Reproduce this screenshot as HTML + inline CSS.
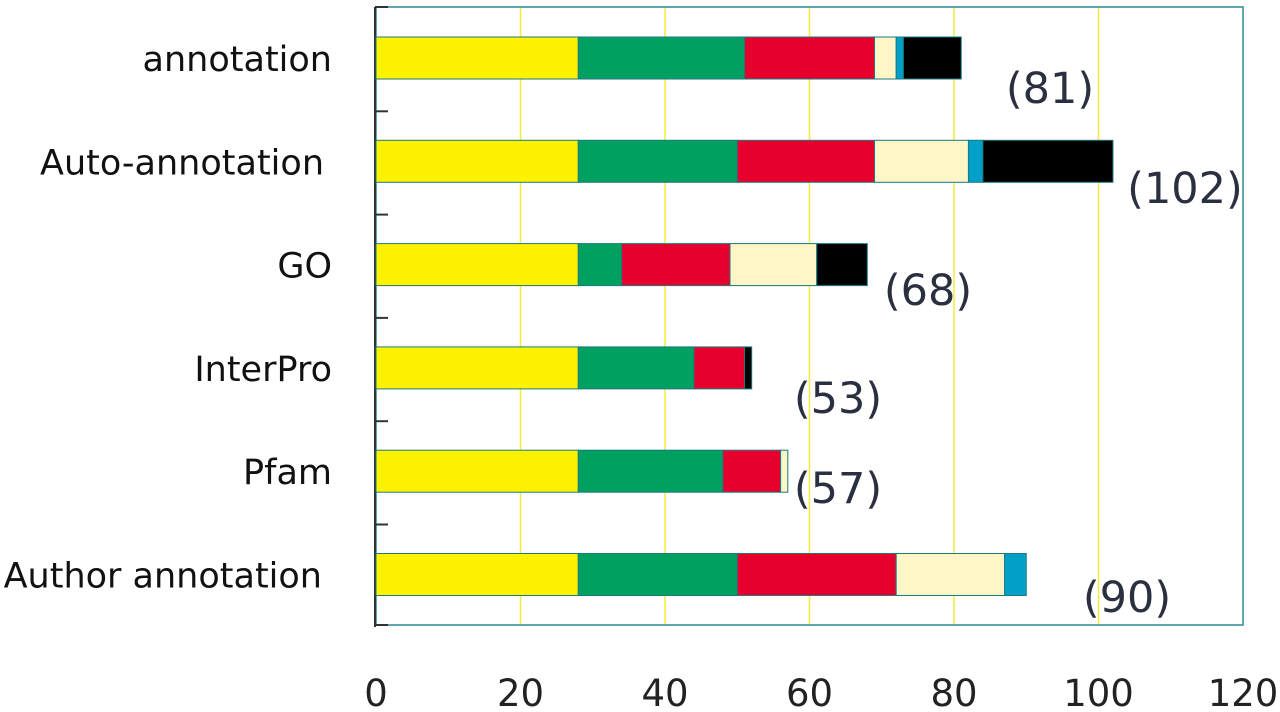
<!DOCTYPE html>
<html><head><meta charset="utf-8"><style>
html,body{margin:0;padding:0;background:#fff;width:1280px;height:712px;overflow:hidden}
svg{display:block;font-family:"DejaVu Sans","Liberation Sans",sans-serif}
</style></head><body>
<svg id="chart" width="1280" height="712" viewBox="0 0 1280 712"></svg>
<script>
const categories = ["annotation","Auto-annotation","GO","InterPro","Pfam","Author annotation"];
const totals = [81,102,68,53,57,90];
const seriesYellow = [28,28,28,28,28,28];
const seriesGreen = [23,22,6,16,20,22];
const seriesRed = [18,19,15,7,8,22];
const seriesCream = [3,13,12,0,1,15];
const seriesBlue = [1,2,0,0,0,3];
const seriesBlack = [8,18,7,1,0,0];
const xTicks = [0,20,40,60,80,100,120];
const colors = ["#fff200","#00a060","#e8002d","#fff6c8","#00a0c8","#000000"];
const seriesNames = ["yellow","green","red","cream","blue","black"];
const series = [seriesYellow,seriesGreen,seriesRed,seriesCream,seriesBlue,seriesBlack];
const labelPos = [[1050,88],[1185,188],[928,290],[838,398],[838,488],[1127,597]];

const NS="http://www.w3.org/2000/svg";
const svg=document.getElementById('chart');
const x0=376,x1=1243,plotTop=7,plotBottom=625;
const xs=v=>x0+(x1-x0)*v/120;
const barY=i=>plotTop+30+i*103.3;
const barH=42;
function el(t,a,p){const e=document.createElementNS(NS,t);for(const k in a)e.setAttribute(k,a[k]);(p||svg).appendChild(e);return e;}

xTicks.forEach((t)=>{
  if(t>0&&t<120){const g=el('line',{x1:xs(t),x2:xs(t),y1:plotTop,y2:plotBottom,stroke:'#f5ec3a','stroke-width':1.5});
  
  }
  const tx=el('text',{x:xs(t),y:706,'text-anchor':'middle','font-size':37,fill:'#222'});
  tx.textContent=t;
  
  
});
const fr=el('rect',{x:x0,y:plotTop,width:x1-x0,height:plotBottom-plotTop,fill:'none',stroke:'#2a8a96','stroke-width':1.5});


const ax=el('line',{x1:x0-1,x2:x0-1,y1:plotTop,y2:plotBottom+2,stroke:'#333','stroke-width':2});


for(let i=0;i<=6;i++){const y=i==0?plotTop:(i==6?plotBottom:barY(i)-29);
  const tk=el('line',{x1:x0-1,x2:x0+12,y1:y,y2:y,stroke:'#333','stroke-width':2});
  
  }

categories.forEach((c,i)=>{
  const y=barY(i);
  let acc=0;
  series.forEach((s,j)=>{
    if(s[i]>0){
      const r=el('rect',{x:xs(acc),y:y,width:xs(acc+s[i])-xs(acc),height:barH,fill:colors[j],stroke:'#1a7a80','stroke-width':1});
      
      
    }
    acc+=s[i];
  });
  const lb=el('text',{x:c==="Author annotation"?322:(c==="Auto-annotation"?324:332),y:y+34,'text-anchor':'end','font-size':35,fill:'#111'});
  lb.textContent=c;
  
  
  const tl=el('text',{x:labelPos[i][0],y:labelPos[i][1]+15,'text-anchor':'middle','font-size':43,fill:'#2a3040'});
  tl.textContent='('+totals[i]+')';
  
  
});
</script>
</body></html>
